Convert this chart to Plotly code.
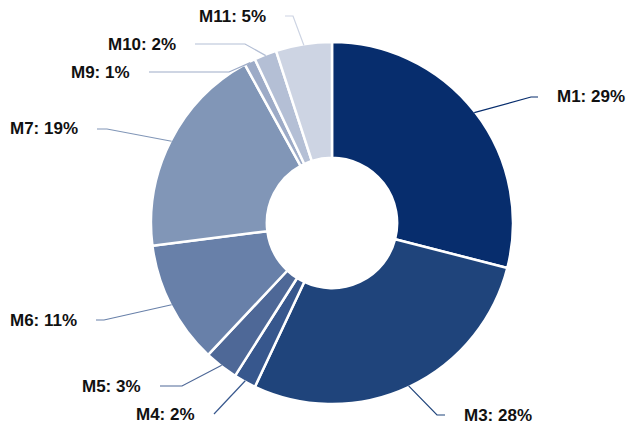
import math
import plotly.graph_objects as go

# ---- data ----
labels = ["M1", "M3", "M4", "M5", "M6", "M7", "M9", "M10", "M11"]
values = [29, 28, 2, 3, 11, 19, 1, 2, 5]

# ---- styles ----
colors = ["#072d6d", "#1f447b", "#37578d", "#4e6897", "#6880a9",
          "#8196b7", "#9dabc7", "#b4bfd5", "#cdd4e3"]

W, H = 628, 428
CX, CY = 332, 223      # pie centre in pixels (from top-left)
R = 181                # pie radius in pixels
HOLE = 0.36

# label placement (layout): x of text edge, y of text centre, side (+1 text right of line), horizontal leader length
label_layout = {
    "M1": (555, 97, 1, 7),
    "M3": (462, 415, 1, 8),
    "M4": (197, 414, -1, 0),
    "M5": (143, 386, -1, 22),
    "M6": (79, 320, -1, 8),
    "M7": (80, 129, -1, 10),
    "M9": (132, 72, -1, 80),
    "M10": (178, 44, -1, 50),
    "M11": (268, 16, -1, 8),
}
GAP = 17

fig = go.Figure(go.Pie(
    labels=labels,
    values=values,
    sort=False,
    direction="clockwise",
    rotation=0,
    hole=HOLE,
    textinfo="none",
    marker=dict(colors=colors, line=dict(color="white", width=2.5)),
    domain=dict(x=[(CX - R) / W, (CX + R) / W],
                y=[1 - (CY + R) / H, 1 - (CY - R) / H]),
    showlegend=False,
    hoverinfo="label+percent",
))


def px(x):
    return x / W


def py(y):
    return 1 - y / H


total = sum(values)
shapes = []
annotations = []
cum = 0.0
for lab, v, col in zip(labels, values, colors):
    mid = (cum + v / 2) / total * 2 * math.pi
    cum += v
    dx, dy = math.sin(mid), -math.cos(mid)
    sx, sy = CX + dx * (R - 1), CY + dy * (R - 1)
    lx, ly, side, hlen = label_layout[lab]
    ex = lx - side * GAP
    bx = ex - side * hlen
    path = f"M {px(sx)} {py(sy)} L {px(bx)} {py(ly)} L {px(ex)} {py(ly)}"
    shapes.append(dict(type="path", path=path, xref="paper", yref="paper",
                       line=dict(color=col, width=1.2)))
    pct = round(v / total * 100)
    annotations.append(dict(
        text=f"{lab}: {pct}%", x=px(lx), y=py(ly), xref="paper", yref="paper",
        xanchor="left" if side > 0 else "right", yanchor="middle",
        showarrow=False,
        font=dict(family="Liberation Sans, Arial, sans-serif", size=17,
                  color="#111111", weight="bold"),
    ))

fig.update_layout(
    width=W, height=H,
    margin=dict(l=0, r=0, t=0, b=0),
    paper_bgcolor="white", plot_bgcolor="white",
    shapes=shapes, annotations=annotations,
)

fig.write_html("out.html", config={"displayModeBar": False},
               post_script="document.body.style.margin='0px';document.body.style.padding='0px';")
